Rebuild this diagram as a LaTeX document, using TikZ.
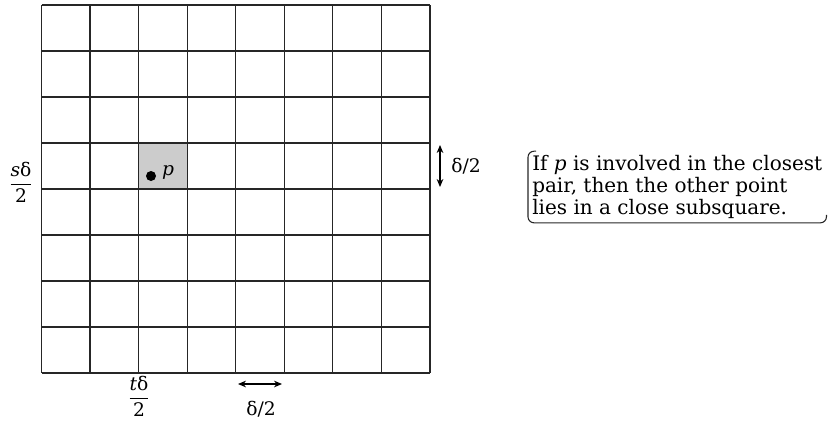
\documentclass[tikz,border=0pt]{standalone}
\usepackage{fontspec}
\setmainfont{DejaVu Serif}
\usetikzlibrary{arrows.meta}
\begin{document}
\begin{tikzpicture}[x=0.75pt,y=-0.75pt,
  font=\fontsize{14}{17}\selectfont,
  gridline/.style={line width=0.85pt, black!85},
  dimarrow/.style={{Stealth[length=6pt,width=5pt]}-{Stealth[length=6pt,width=5pt]}, line width=0.8pt},
  bracket/.style={line width=0.8pt, black!85, rounded corners=4.5pt},
  lbl/.style={inner sep=0pt}]
\useasboundingbox (0,0) rectangle (828,425);
% shaded cell
\fill[black!20] (138.6,143) rectangle (187.2,189);
% grid
\foreach \i in {0,...,8} {
  \draw[gridline] ({41.5+\i*48.5625},5) -- ({41.5+\i*48.5625},373);
  \draw[gridline] (41.5,{5+\i*46}) -- (430,{5+\i*46});
}
% point p
\node[circle, fill=black, inner sep=0pt, minimum size=7.5pt] (dot) at (151,176) {};
\node[lbl] (plabel) at (168,172) {\textit{p}};
% axis labels
\node[lbl] (sfrac) at (21,182) {$\displaystyle\frac{\mbox{\itshape s}\mbox{δ}}{\mbox{2}}$};
\node[lbl] (tfrac) at (139,396) {$\displaystyle\frac{\mbox{\itshape t}\mbox{δ}}{\mbox{2}}$};
% horizontal dimension
\coordinate (h1) at (238,384);
\coordinate (h2) at (282,384);
\draw[dimarrow] (h1) -- (h2);
\node[lbl] (hlab) at (261,409) {δ/2};
% vertical dimension
\coordinate (v1) at (440,145);
\coordinate (v2) at (440,187);
\draw[dimarrow] (v1) -- (v2);
\node[lbl, anchor=west] (vlab) at (451,166) {δ/2};
% callout
\node[align=left, anchor=west, inner xsep=3pt, inner ysep=3pt, font=\fontsize{15}{16.4}\selectfont] (note) at (528,187)
  {If \textit{p} is involved in the closest\\ pair, then the other point\\ lies in a close subsquare.};
\draw[bracket] ([xshift=6pt]note.north west) -- (note.north west) -- (note.south west) -- (note.south east) -- ([yshift=6pt]note.south east);
\end{tikzpicture}
\end{document}
